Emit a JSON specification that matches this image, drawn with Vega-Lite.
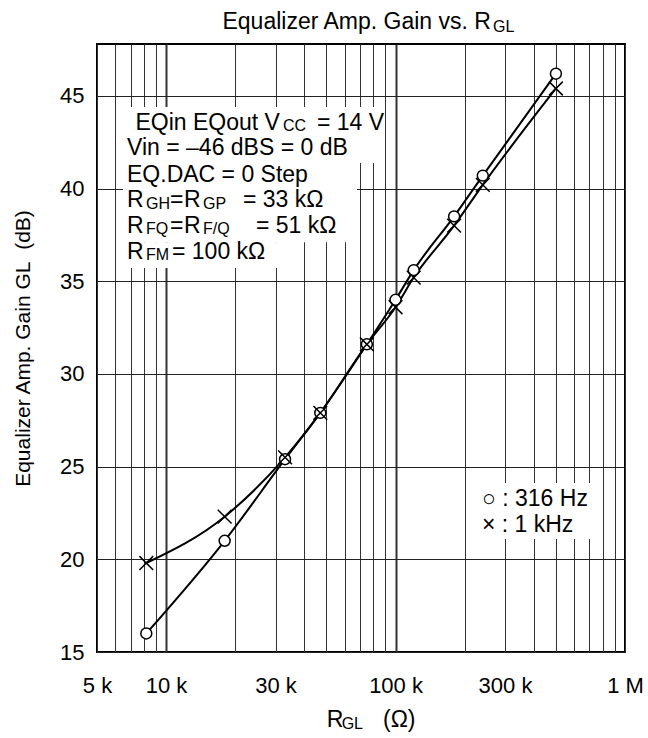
{
  "$schema": "https://vega.github.io/schema/vega-lite/v6.json",
  "width": 528,
  "height": 608,
  "autosize": {"type": "none"},
  "padding": {"left": 97, "top": 44, "right": 23, "bottom": 86},
  "background": "white",
  "config": {
    "view": {"stroke": "#000", "strokeWidth": 2},
    "font": "Liberation Sans",
    "text": {"font": "Liberation Sans", "color": "#000"}
  },
  "datasets": {
    "meas": [
      {"freq": "316 Hz", "r": 8200, "gain": 16.0},
      {"freq": "316 Hz", "r": 18000, "gain": 21.0},
      {"freq": "316 Hz", "r": 33000, "gain": 25.4},
      {"freq": "316 Hz", "r": 47000, "gain": 27.9},
      {"freq": "316 Hz", "r": 75000, "gain": 31.6},
      {"freq": "316 Hz", "r": 100000, "gain": 34.0},
      {"freq": "316 Hz", "r": 120000, "gain": 35.6},
      {"freq": "316 Hz", "r": 180000, "gain": 38.5},
      {"freq": "316 Hz", "r": 240000, "gain": 40.7},
      {"freq": "316 Hz", "r": 500000, "gain": 46.2},
      {"freq": "1 kHz", "r": 8200, "gain": 19.8},
      {"freq": "1 kHz", "r": 18000, "gain": 22.3},
      {"freq": "1 kHz", "r": 33000, "gain": 25.5},
      {"freq": "1 kHz", "r": 47000, "gain": 27.9},
      {"freq": "1 kHz", "r": 75000, "gain": 31.6},
      {"freq": "1 kHz", "r": 100000, "gain": 33.6},
      {"freq": "1 kHz", "r": 120000, "gain": 35.2},
      {"freq": "1 kHz", "r": 180000, "gain": 38.0},
      {"freq": "1 kHz", "r": 240000, "gain": 40.2},
      {"freq": "1 kHz", "r": 500000, "gain": 45.4}
    ],
    "boxes": [
      {"r": 6491, "r2": 85535, "gain": 44.40, "gain2": 41.38},
      {"r": 6491, "r2": 67900, "gain": 41.38, "gain2": 37.11},
      {"r": 6491, "r2": 38320, "gain": 37.11, "gain2": 35.71},
      {"r": 228600, "r2": 730000, "gain": 24.12, "gain2": 21.09}
    ],
    "txt_l": [
      {"r": 45457, "gain": 43.155, "t": "= 14 V"},
      {"r": 6757, "gain": 41.807, "t": "Vin = –46 dBS = 0 dB"},
      {"r": 6757, "gain": 40.367, "t": "EQ.DAC = 0 Step"},
      {"r": 6757, "gain": 38.986, "t": "R"},
      {"r": 10400, "gain": 38.986, "t": "="},
      {"r": 11967, "gain": 38.986, "t": "R"},
      {"r": 21638, "gain": 38.986, "t": "= 33 kΩ"},
      {"r": 6757, "gain": 37.60, "t": "R"},
      {"r": 10400, "gain": 37.60, "t": "="},
      {"r": 11967, "gain": 37.60, "t": "R"},
      {"r": 24646, "gain": 37.60, "t": "= 51 kΩ"},
      {"r": 6757, "gain": 36.197, "t": "R"},
      {"r": 10611, "gain": 36.197, "t": "= 100 kΩ"},
      {"r": 238050, "gain": 22.875, "t": "○ : 316 Hz"},
      {"r": 238050, "gain": 21.47, "t": "× : 1 kHz"},
      {"r": 50100, "gain": 10.94, "t": "R"},
      {"r": 88150, "gain": 10.94, "t": "(Ω)"}
    ],
    "txt_r": [
      {"r": 260450, "gain": 48.62, "t": "Equalizer Amp. Gain vs. R"},
      {"r": 31357, "gain": 43.155, "t": "EQin EQout V"}
    ],
    "txt_sub": [
      {"r": 265900, "gain": 48.457, "t": "GL"},
      {"r": 32316, "gain": 43.09, "t": "CC"},
      {"r": 8177, "gain": 38.921, "t": "GH"},
      {"r": 14484, "gain": 38.921, "t": "GP"},
      {"r": 8177, "gain": 37.535, "t": "FQ"},
      {"r": 14484, "gain": 37.535, "t": "F/Q"},
      {"r": 8177, "gain": 36.133, "t": "FM"},
      {"r": 58245, "gain": 10.83, "t": "GL"}
    ]
  },
  "encoding": {
    "x": {
      "field": "r", "type": "quantitative",
      "scale": {"type": "log", "domain": [5000, 1000000], "nice": false},
      "axis": {
        "values": [5000, 6000, 7000, 8000, 9000, 10000, 20000, 30000, 40000, 50000, 60000, 70000, 80000, 90000, 100000, 200000, 300000, 400000, 500000, 600000, 700000, 800000, 900000, 1000000],
        "labelExpr": "datum.value == 5000 ? '5 k' : datum.value == 10000 ? '10 k' : datum.value == 30000 ? '30 k' : datum.value == 100000 ? '100 k' : datum.value == 300000 ? '300 k' : datum.value == 1000000 ? '1 M' : ''",
        "grid": true,
        "gridColor": "#333",
        "gridWidth": {"condition": {"test": "datum.value == 10000 || datum.value == 100000", "value": 2}, "value": 1},
        "gridOpacity": 1,
        "ticks": false,
        "tickSize": 0,
        "domain": false,
        "labelFont": "Liberation Sans",
        "labelFontSize": 22,
        "labelColor": "#000",
        "labelPadding": 23,
        "labelOverlap": false,
        "labelBound": false,
        "labelFlush": false,
        "title": null
      }
    },
    "y": {
      "field": "gain", "type": "quantitative",
      "scale": {"domain": [15, 47.8], "nice": false, "zero": false},
      "axis": {
        "values": [15, 20, 25, 30, 35, 40, 45],
        "format": "d",
        "grid": true,
        "gridColor": "#222",
        "gridWidth": 1.2,
        "gridOpacity": 1,
        "ticks": false,
        "tickSize": 0,
        "domain": false,
        "labelFont": "Liberation Sans",
        "labelFontSize": 22,
        "labelColor": "#000",
        "labelPadding": 13,
        "title": "Equalizer Amp. Gain GL\u00a0 (dB)",
        "titleFont": "Liberation Sans",
        "titleFontSize": 21,
        "titleFontWeight": "normal",
        "titleColor": "#000",
        "titlePadding": 26
      }
    }
  },
  "layer": [
    {
      "data": {"name": "boxes"},
      "mark": {"type": "rect", "fill": "white", "stroke": null},
      "encoding": {
        "x2": {"field": "r2"},
        "y2": {"field": "gain2"}
      }
    },
    {
      "data": {"name": "meas"},
      "mark": {"type": "line", "interpolate": "monotone", "color": "#000", "strokeWidth": 2},
      "encoding": {
        "detail": {"field": "freq"}
      }
    },
    {
      "data": {"name": "meas"},
      "transform": [{"filter": "datum.freq == '316 Hz'"}],
      "mark": {"type": "point", "shape": "circle", "filled": true, "fill": "white", "stroke": "#000", "strokeWidth": 1.5, "size": 120, "opacity": 1},
      "encoding": {}
    },
    {
      "data": {"name": "meas"},
      "transform": [{"filter": "datum.freq == '1 kHz'"}],
      "mark": {"type": "point", "shape": "M-1,-1L1,1M-1,1L1,-1", "filled": false, "stroke": "#000", "strokeWidth": 1.5, "size": 190, "opacity": 1},
      "encoding": {}
    },
    {
      "data": {"name": "txt_l"},
      "mark": {"type": "text", "align": "left", "baseline": "alphabetic", "fontSize": 23, "color": "#000"},
      "encoding": {"text": {"field": "t"}}
    },
    {
      "data": {"name": "txt_r"},
      "mark": {"type": "text", "align": "right", "baseline": "alphabetic", "fontSize": 23, "color": "#000"},
      "encoding": {"text": {"field": "t"}}
    },
    {
      "data": {"name": "txt_sub"},
      "mark": {"type": "text", "align": "left", "baseline": "alphabetic", "fontSize": 16, "color": "#000"},
      "encoding": {"text": {"field": "t"}}
    }
  ]
}
